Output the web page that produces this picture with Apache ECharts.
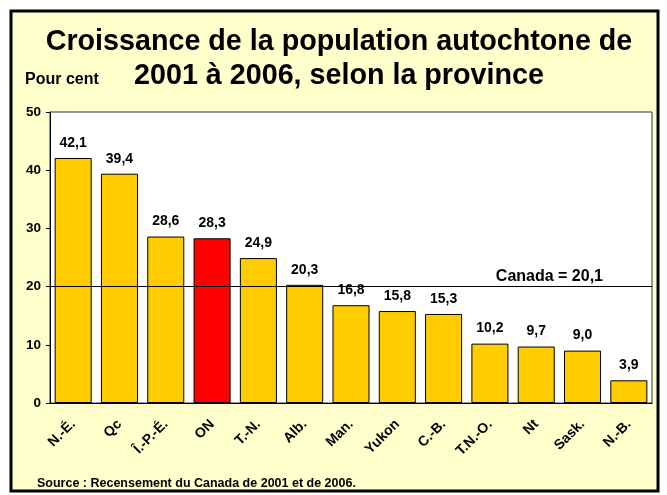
<!DOCTYPE html>
<html>
<head>
<meta charset="utf-8">
<script src="https://cdn.jsdelivr.net/npm/echarts@6/dist/echarts.min.js"></script>
<style>
  html, body { margin: 0; padding: 0; background: #fff; }
  #chart { width: 667px; height: 495px; }
</style>
</head>
<body>
<div id="chart"></div>
<script>
  // données
  const provinces = ['N.-É.', 'Qc', 'Î.-P.-É.', 'ON', 'T.-N.', 'Alb.', 'Man.', 'Yukon', 'C.-B.', 'T.N.-O.', 'Nt', 'Sask.', 'N.-B.'];
  const croissance = [42.1, 39.4, 28.6, 28.3, 24.9, 20.3, 16.8, 15.8, 15.3, 10.2, 9.7, 9.0, 3.9];
  const surligne = ['ON'];
  const canada = 20.1;
  const yTicks = [0, 10, 20, 30, 40, 50];

  const font = '"Liberation Sans", Arial, sans-serif';
  const fmt = v => v.toFixed(1).replace('.', ',');

  const myChart = echarts.init(document.getElementById('chart'));
  const options = {
    animation: false,
    textStyle: { fontFamily: font },
    graphic: [{
      type: 'rect',
      z: -10,
      shape: { x: 11, y: 11, width: 647, height: 480 },
      style: { fill: '#FFFFCC', stroke: '#000', lineWidth: 3 }
    }],
    title: [{
      text: 'Croissance de la population autochtone de\n2001 à 2006, selon la province',
      left: 339,
      textAlign: 'center',
      top: 25,
      padding: 0,
      textStyle: { fontFamily: font, fontSize: 28.7, fontWeight: 'bold', color: '#000', lineHeight: 34 }
    }, {
      text: 'Pour cent',
      left: 25,
      top: 72,
      padding: 0,
      textStyle: { fontFamily: font, fontSize: 16, fontWeight: 'bold', color: '#000' }
    }, {
      text: 'Source : Recensement du Canada de 2001 et de 2006.',
      left: 37,
      top: 477,
      padding: 0,
      textStyle: { fontFamily: font, fontSize: 12.5, fontWeight: 'bold', color: '#000' }
    }],
    grid: {
      left: 50, right: 15, top: 112, bottom: 92,
      show: true, backgroundColor: '#fff', borderColor: '#333', borderWidth: 1
    },
    xAxis: {
      type: 'category',
      data: provinces,
      axisLine: { lineStyle: { color: '#000', width: 1 } },
      axisTick: { show: false },
      axisLabel: {
        rotate: 45, interval: 0, margin: 19,
        fontFamily: font, fontSize: 14, fontWeight: 'bold', color: '#000'
      }
    },
    yAxis: {
      type: 'value',
      min: yTicks[0], max: yTicks[yTicks.length - 1], interval: 10,
      axisLine: { show: true, lineStyle: { color: '#000', width: 1 } },
      axisTick: { show: true, length: 4, lineStyle: { color: '#000' } },
      splitLine: { show: false },
      axisLabel: { fontFamily: font, fontSize: 13.5, fontWeight: 'bold', color: '#000', margin: 9 }
    },
    series: [{
      type: 'bar',
      barCategoryGap: '20%',
      data: croissance.map((v, i) => ({
        value: v,
        itemStyle: { color: surligne.includes(provinces[i]) ? '#FF0000' : '#FFCC00' }
      })),
      itemStyle: { borderColor: '#000', borderWidth: 1 },
      label: {
        show: true, position: 'top', distance: 8,
        fontFamily: font, fontSize: 14, fontWeight: 'bold', color: '#000',
        formatter: p => fmt(p.value)
      },
      markLine: {
        silent: true,
        symbol: 'none',
        lineStyle: { color: '#000', width: 1, type: 'solid' },
        label: {
          position: 'insideEndTop',
          distance: [49, 1],
          fontFamily: font, fontSize: 16, fontWeight: 'bold', color: '#000',
          formatter: 'Canada = ' + fmt(canada)
        },
        data: [{ yAxis: canada }]
      }
    }]
  };
  myChart.setOption(options, true);
</script>
</body>
</html>
